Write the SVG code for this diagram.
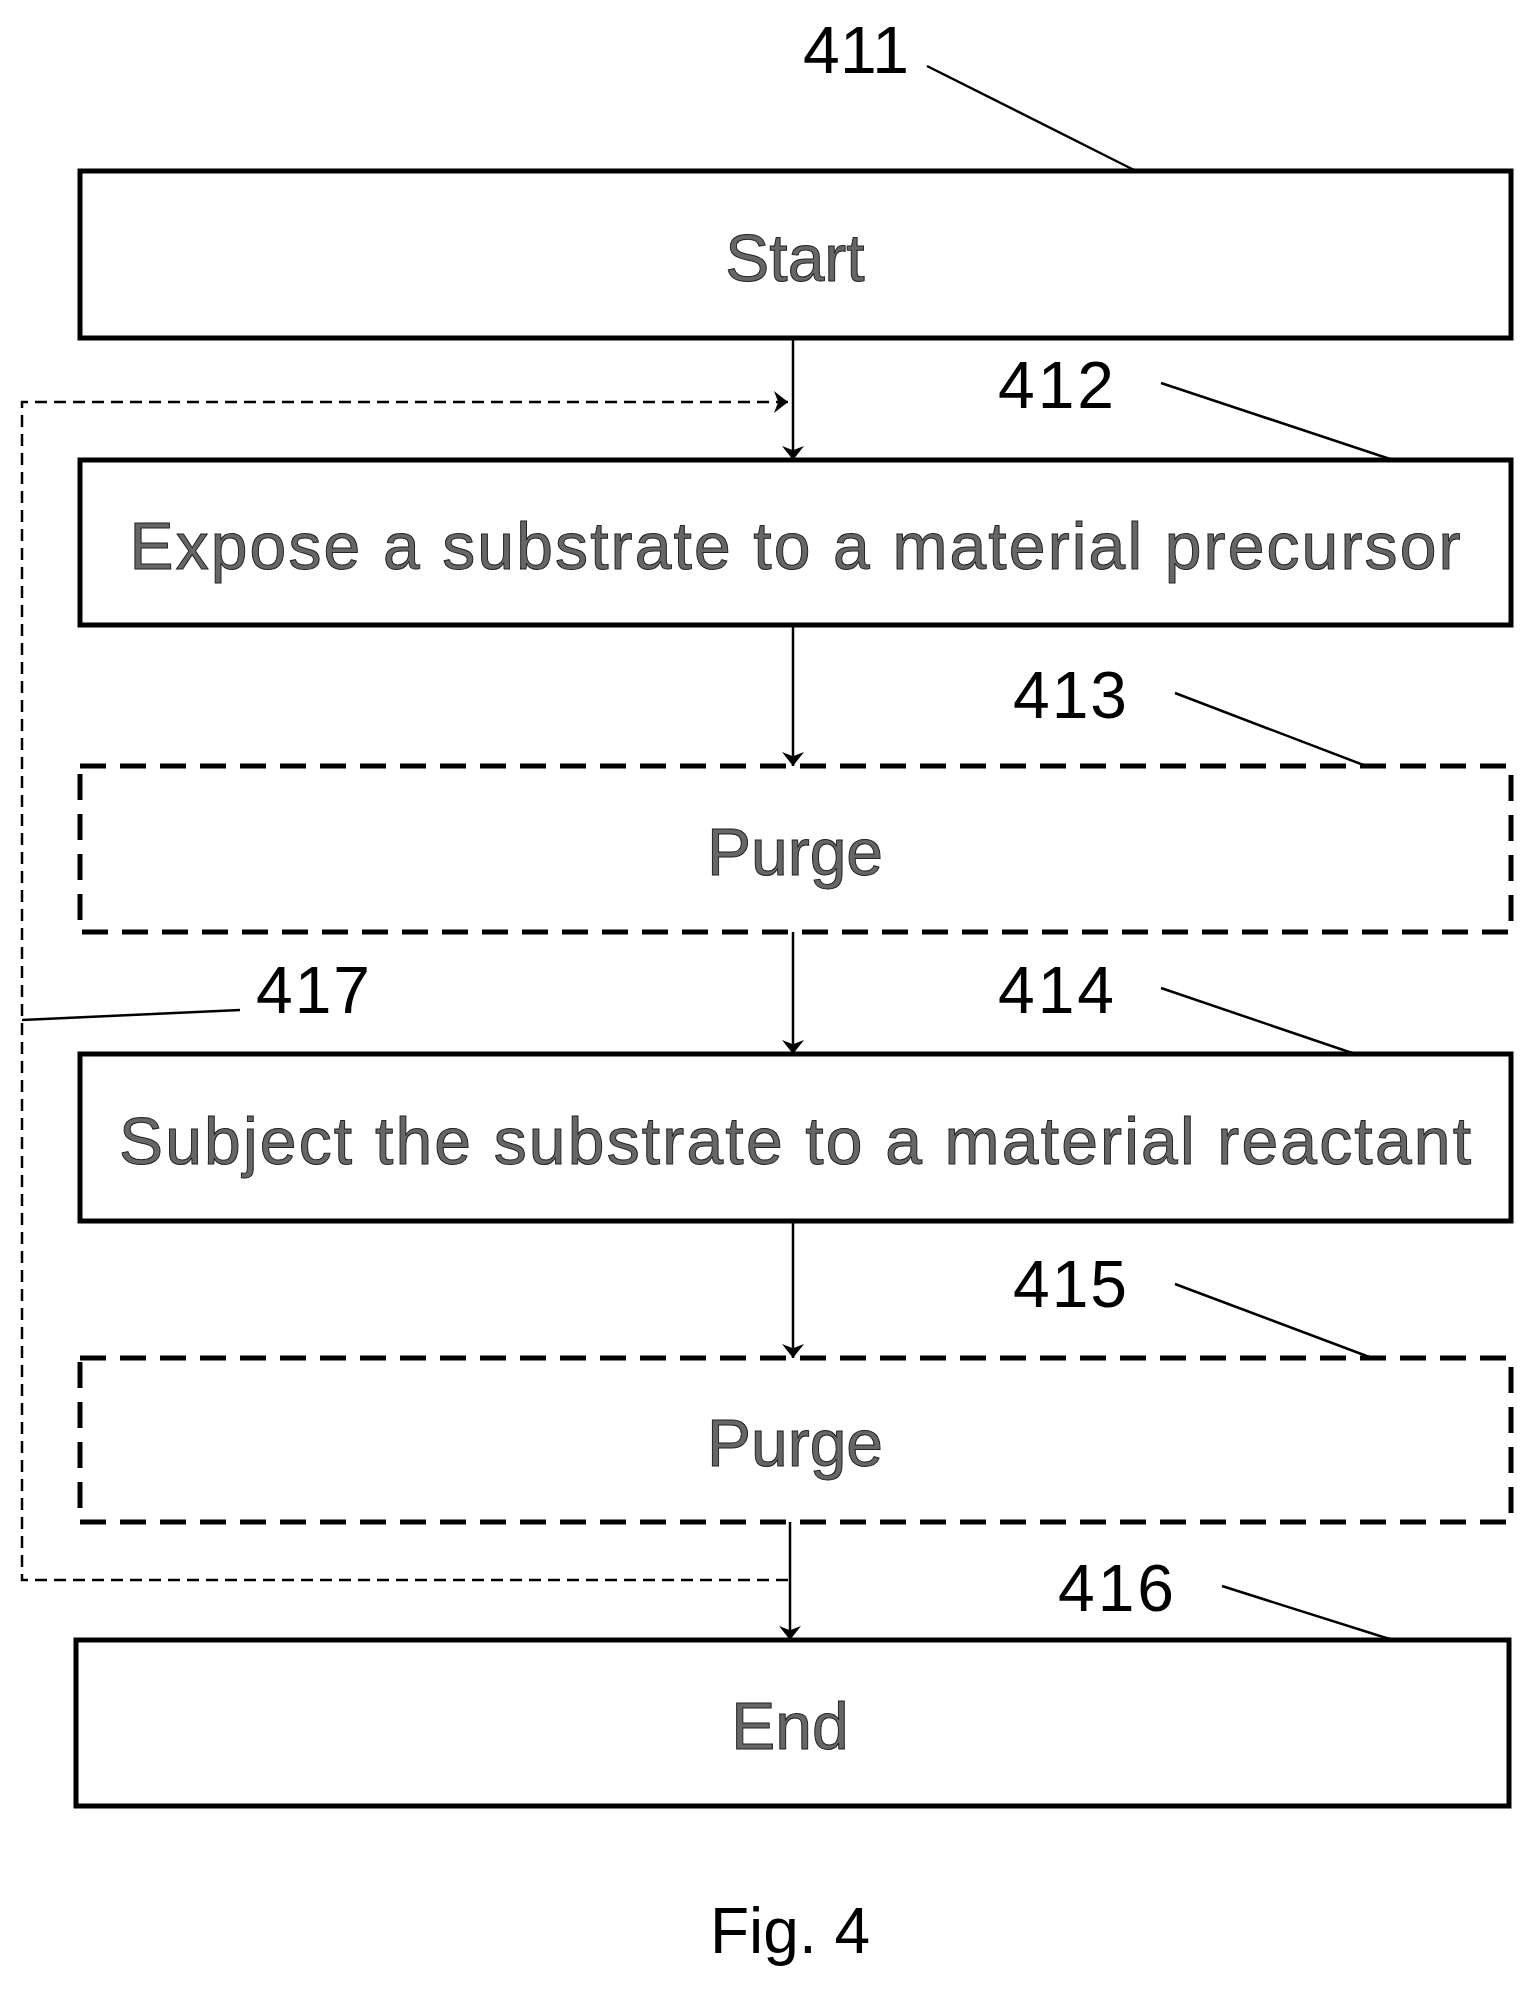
<svg xmlns="http://www.w3.org/2000/svg" width="1532" height="1991" viewBox="0 0 1532 1991">
<style>
.b{fill:#fff;stroke:#000;stroke-width:5}
.d{fill:#fff;stroke:#000;stroke-width:5;stroke-dasharray:26 14}
.t{font-family:"Liberation Sans",Arial,sans-serif;font-size:66px;fill:#666;stroke:#222;stroke-width:1;text-anchor:middle}
.n{font-family:"Liberation Sans",Arial,sans-serif;font-size:66px;fill:#000}
.l{stroke:#000;stroke-width:2.5;fill:none}
</style>
<defs><marker id="A" viewBox="0 0 10 10" refX="10" refY="5" markerWidth="14" markerHeight="22" markerUnits="userSpaceOnUse" orient="auto" preserveAspectRatio="none"><path d="M0,0L10,5L0,10L3,5z" fill="#000"/></marker></defs>
<g id="connectors">
<line class="l" x1="793" y1="338" x2="793" y2="460" marker-end="url(#A)"/>
<line class="l" x1="793" y1="625" x2="793" y2="766" marker-end="url(#A)"/>
<line class="l" x1="793" y1="932" x2="793" y2="1054" marker-end="url(#A)"/>
<line class="l" x1="793" y1="1221" x2="793" y2="1358" marker-end="url(#A)"/>
<line class="l" x1="790" y1="1522" x2="790" y2="1640" marker-end="url(#A)"/>
<path class="l" d="M788,1580H22V402H788" stroke-dasharray="12 7" marker-end="url(#A)"/>
<path class="l" d="M22,1020L240,1010"/>
<path class="l" d="M927,66L1136,171M1161,383L1393,460M1175,693L1374,769M1161,988L1361,1056M1175,1284L1380,1361M1222,1586L1399,1642"/>
</g>
<g id="n411"><rect class="b" x="80" y="171" width="1431" height="167"/><text class="t" x="795" y="281">Start</text><text class="n" x="803" y="73" textLength="106">411</text></g>
<g id="n412"><rect class="b" x="80" y="460" width="1431" height="165"/><text class="t" x="795" y="569" textLength="1331">Expose a substrate to a material precursor</text><text class="n" x="998" y="408" textLength="116">412</text></g>
<g id="n413"><rect class="d" x="80" y="766" width="1431" height="166"/><text class="t" x="795" y="875">Purge</text><text class="n" x="1013" y="718" textLength="114">413</text></g>
<g id="n414"><rect class="b" x="80" y="1054" width="1431" height="167"/><text class="t" x="795" y="1164" textLength="1352">Subject the substrate to a material reactant</text><text class="n" x="998" y="1013" textLength="116">414</text></g>
<g id="n415"><rect class="d" x="80" y="1358" width="1431" height="164"/><text class="t" x="795" y="1466">Purge</text><text class="n" x="1013" y="1307" textLength="114">415</text></g>
<g id="n416"><rect class="b" x="76" y="1640" width="1433" height="166"/><text class="t" x="790" y="1749">End</text><text class="n" x="1058" y="1611" textLength="116">416</text></g>
<text class="n" x="256" y="1013" textLength="114">417</text>
<text class="n" x="790" y="1953" text-anchor="middle" style="font-size:64px">Fig. 4</text>
</svg>
